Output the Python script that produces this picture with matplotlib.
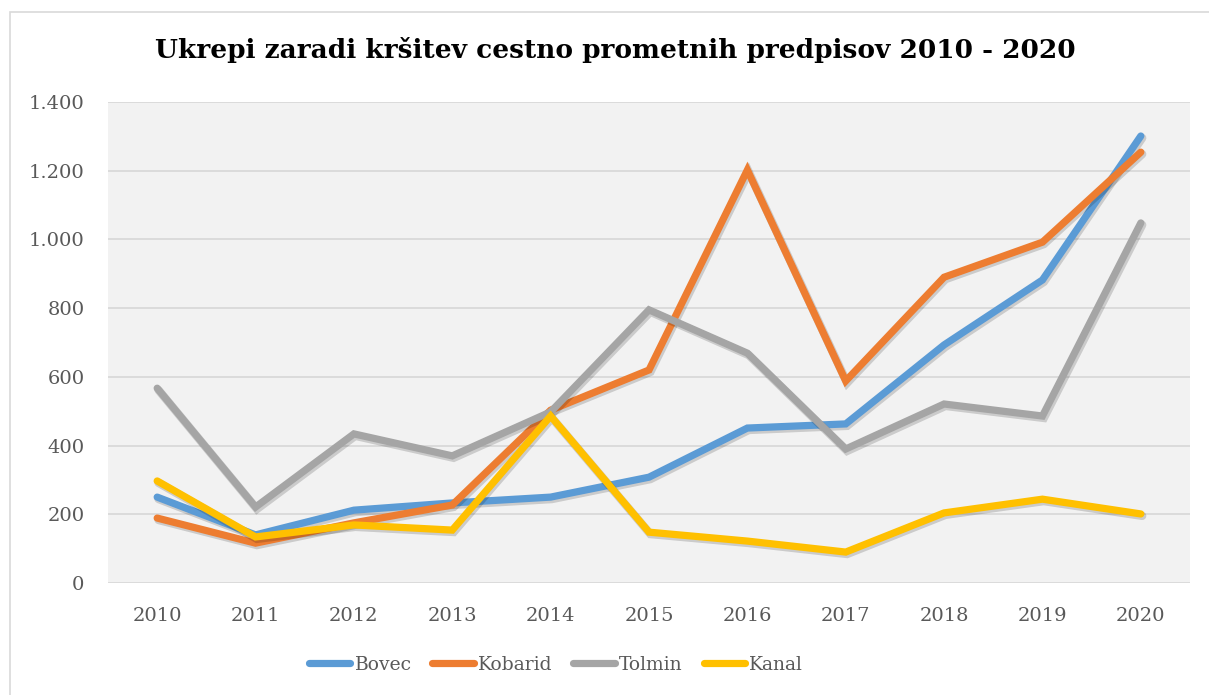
import matplotlib

matplotlib.use("Agg")
import matplotlib.pyplot as plt
import matplotlib.patheffects as pe
from matplotlib.patches import Rectangle
from matplotlib.ticker import FuncFormatter

years = ["2010", "2011", "2012", "2013", "2014", "2015",
         "2016", "2017", "2018", "2019", "2020"]
bovec = [250, 140, 212, 233, 250, 308, 451, 463, 693, 882, 1301]
kobarid = [189, 116, 175, 227, 503, 620, 1202, 588, 890, 992, 1254]
tolmin = [567, 221, 434, 370, 498, 795, 669, 390, 521, 486, 1048]
kanal = [297, 134, 169, 154, 486, 148, 122, 90, 204, 244, 201]

series = [
    ("Bovec", bovec, "#5b9bd5"),
    ("Kobarid", kobarid, "#ed7d31"),
    ("Tolmin", tolmin, "#a5a5a5"),
    ("Kanal", kanal, "#ffc000"),
]

TEXT = "#595959"
plt.rcParams["font.family"] = ["DejaVu Serif"]

fig = plt.figure(figsize=(12.09, 6.95), dpi=100)
ax = fig.add_axes([108 / 1209, 1 - 583 / 695, (1190 - 108) / 1209, (583 - 102) / 695])
ax.set_facecolor("#f2f2f2")

# soft drop shadow like the Office default line style
shadow = [pe.SimpleLineShadow(offset=(1.0, -1.4), shadow_color="black", alpha=0.16,
                              linewidth=6.0),
          pe.Normal()]
x = list(range(len(years)))
for label, vals, colour in series:
    ax.plot(x, vals, color=colour, linewidth=5.2, label=label,
            solid_capstyle="round", solid_joinstyle="miter", path_effects=shadow)

ax.set_xlim(-0.5, len(years) - 0.5)
ax.set_ylim(0, 1400)
ax.set_yticks(range(0, 1401, 200))
ax.yaxis.set_major_formatter(FuncFormatter(lambda v, _: f"{int(v):,}".replace(",", ".")))
ax.set_xticks(x)
ax.set_xticklabels(years)
ax.grid(axis="y", color="#d9d9d9", linewidth=1.3)
ax.set_axisbelow(True)
for side in ("top", "right", "left", "bottom"):
    ax.spines[side].set_visible(False)
ax.tick_params(length=0, colors=TEXT, labelsize=14)
ax.tick_params(axis="y", pad=17)
ax.tick_params(axis="x", pad=17)

fig.text(615 / 1209, 1 - 50 / 695, "Ukrepi zaradi kršitev cestno prometnih predpisov 2010 - 2020",
         ha="center", va="center", fontsize=19, fontweight="bold", color="black")

leg = fig.legend(loc="center", bbox_to_anchor=(556 / 1209, 1 - 665 / 695), ncol=4,
                 frameon=False, fontsize=13.5, labelcolor=TEXT, handlelength=2.2,
                 handletextpad=0.25, columnspacing=1.1)
for line in leg.get_lines():
    line.set_linewidth(5.2)
    line.set_solid_capstyle("round")
    line.set_path_effects([])

# chart border: only top and left edges fall inside the image
fig.patches.append(Rectangle((10 / 1209, -0.05), 1.1, 1 - 12 / 695 + 0.05,
                             transform=fig.transFigure, fill=False,
                             edgecolor="#d9d9d9", linewidth=1.2))

fig.savefig("out.png")
